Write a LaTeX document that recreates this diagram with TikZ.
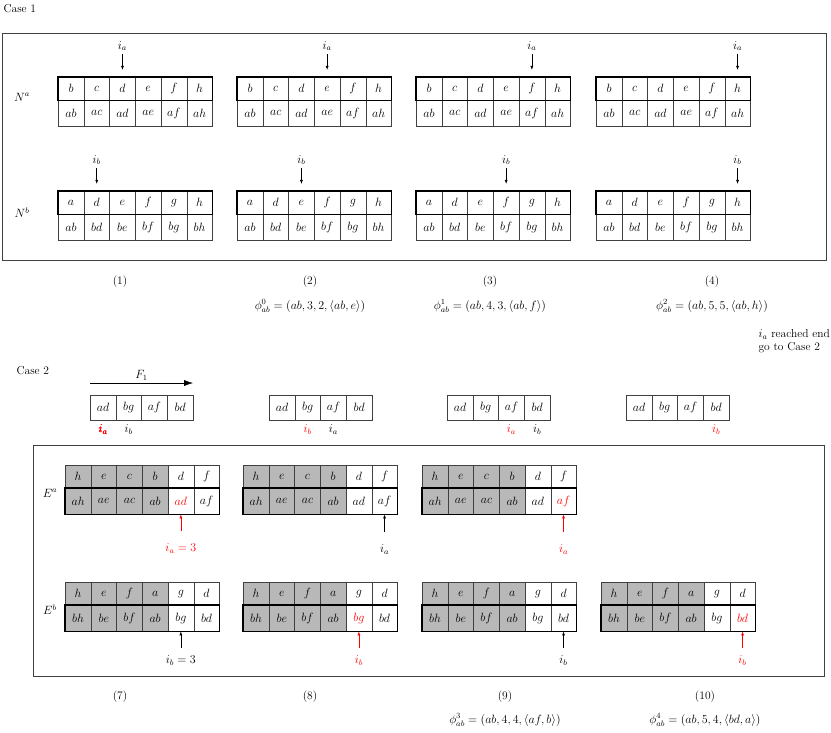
\documentclass[tikz,border=0pt]{standalone}
\usetikzlibrary{arrows.meta,calc}
\tikzset{
  cell/.style={draw=black!75, minimum width=25.7pt, inner sep=0pt, anchor=north west},
  ptr/.style={-{Latex[length=4pt,width=3pt]}, semithick},
  lbl/.style={font=\fontsize{11.5}{13}\selectfont}
}
% one row of cells: prefix, x, y, height, entries
\newcommand{\rowcells}[5]{
  \foreach \t [count=\i] in {#5}
    \node[cell, minimum height=#4] (#1\i) at ({#2+(\i-1)*25.7},#3) {$\t$};
}
\begin{document}
\begin{tikzpicture}[x=1pt,y=-1pt,every node/.style={font=\fontsize{11.5}{13}\selectfont}]
	\useasboundingbox (0,0) rectangle (831,733);
	% Case 1
	\node[anchor=west] (caseone) at (0,9) {Case 1};
	\draw[black!75] (2,33) rectangle (826,260);
	\node (Na) at (22,97) {$N^a$};
	\node (Nb) at (22,213) {$N^b$};
	\foreach \x/\k/\pa/\pb [count=\n] in {58/1/3/2, 237/2/4/3, 416/3/5/4, 596/4/6/6} {
		\rowcells{na\n t}{\x}{77}{23pt}{b,c,d,e,f,h}
		\rowcells{na\n b}{\x}{100}{26pt}{ab,ac,ad,ae,af,ah}
		\draw[very thick] (na\n t1.north west) rectangle (na\n t6.south east);
		\rowcells{nb\n t}{\x}{191}{23pt}{a,d,e,f,g,h}
		\rowcells{nb\n b}{\x}{214}{26pt}{ab,bd,be,bf,bg,bh}
		\draw[very thick] (nb\n t1.north west) rectangle (nb\n t6.south east);
		\path (na\n t\pa.north) ++(0,-31) node (pa\n) {$i_a$};
		\draw[ptr, shorten >=7pt] (pa\n.south) -- (na\n t\pa.north);
		\path (nb\n t\pb.north) ++(0,-31) node (pb\n) {$i_b$};
		\draw[ptr, shorten >=7pt] (pb\n.south) -- (nb\n t\pb.north);
	}
	\node (s1) at (120,282) {(1)};
	\node (s2) at (310,282) {(2)};
	\node (s3) at (490,282) {(3)};
	\node (s4) at (712,282) {(4)};
	\node (phi0) at (310,306) {$\phi^0_{ab}=(ab,3,2,\langle ab,e\rangle)$};
	\node (phi1) at (490,306) {$\phi^1_{ab}=(ab,4,3,\langle ab,f\rangle)$};
	\node (phi2) at (712,306) {$\phi^2_{ab}=(ab,5,5,\langle ab,h\rangle)$};
	\node[anchor=east, align=left, inner sep=1pt] (endnote) at (831,341) {$i_a$ reached end\\go to Case 2};
	% Case 2
	\node[anchor=west] (casetwo) at (13,371) {Case 2};
	\coordinate (fs) at (90,383);
	\coordinate (fe) at (193,383);
	\draw[-{Latex[length=9pt,width=6pt]}] (fs) -- (fe) node[midway, above=-1pt] (F1) {$F_1$};
	\foreach \x [count=\n] in {90,269,447,626}
		\rowcells{f\n c}{\x}{395}{25pt}{ad,bg,af,bd}
	\node[red, below=1pt] (fia1) at (f1c1.south) {$i_a$};
	\node[below=1pt] (fib1) at (f1c2.south) {$i_b$};
	\node[red, below=1pt] (fib2) at (f2c2.south) {$i_b$};
	\node[below=1pt] (fia2) at (f2c3.south) {$i_a$};
	\node[red, below=1pt] (fia3) at (f3c3.south) {$i_a$};
	\node[below=1pt] (fib3) at (f3c4.south) {$i_b$};
	\node[red, below=1pt] (fib4) at (f4c4.south) {$i_b$};
	\draw[black!75] (33,445) rectangle (824,676);
	\node (Ea) at (50,493) {$E^a$};
	\node (Eb) at (50,610) {$E^b$};
	\foreach \x/\ad/\af [count=\n] in {65/{\color{red}ad}/af, 243/ad/af, 422/ad/{\color{red}af}} {
		\fill[black!28] (\x,465) rectangle ++(102.8,49);
		\rowcells{ea\n t}{\x}{465}{23pt}{h,e,c,b,d,f}
		\rowcells{ea\n b}{\x}{488}{26pt}{ah,ae,ac,ab,\ad,\af}
		\draw[very thick] (ea\n b1.north west) rectangle (ea\n b6.south east);
	}
	\foreach \x/\bg/\bd [count=\n] in {65/bg/bd, 243/{\color{red}bg}/bd, 422/bg/bd, 601/bg/{\color{red}bd}} {
		\fill[black!28] (\x,582) rectangle ++(102.8,49);
		\rowcells{eb\n t}{\x}{582}{23pt}{h,e,f,a,g,d}
		\rowcells{eb\n b}{\x}{605}{26pt}{bh,be,bf,ab,\bg,\bd}
		\draw[very thick] (eb\n b1.north west) rectangle (eb\n b6.south east);
	}
	% pointers below the tables
	\node[red] (qa1) at ($(ea1b5.south)+(0,34)$) {$i_a=3$};
	\draw[ptr, red, shorten <=9pt] (qa1.north) -- (ea1b5.south);
	\node (qa2) at ($(ea2b6.south)+(0,35)$) {$i_a$};
	\draw[ptr, shorten <=9pt] (qa2.north) -- (ea2b6.south);
	\node[red] (qa3) at ($(ea3b6.south)+(0,35)$) {$i_a$};
	\draw[ptr, red, shorten <=9pt] (qa3.north) -- (ea3b6.south);
	\node (qb1) at ($(eb1b5.south)+(0,29)$) {$i_b=3$};
	\draw[ptr, shorten <=4pt] (qb1.north) -- (eb1b5.south);
	\node[red] (qb2) at ($(eb2b5.south)+(0,29)$) {$i_b$};
	\draw[ptr, red, shorten <=4pt] (qb2.north) -- (eb2b5.south);
	\node (qb3) at ($(eb3b6.south)+(0,29)$) {$i_b$};
	\draw[ptr, shorten <=4pt] (qb3.north) -- (eb3b6.south);
	\node[red] (qb4) at ($(eb4b6.south)+(0,29)$) {$i_b$};
	\draw[ptr, red, shorten <=4pt] (qb4.north) -- (eb4b6.south);
	\node (s7) at (120,697) {(7)};
	\node (s8) at (310,697) {(8)};
	\node (s9) at (505,697) {(9)};
	\node (s10) at (705,697) {(10)};
	\node (phi3) at (505,720) {$\phi^3_{ab}=(ab,4,4,\langle af,b\rangle)$};
	\node (phi4) at (705,720) {$\phi^4_{ab}=(ab,5,4,\langle bd,a\rangle)$};
\end{tikzpicture}
\end{document}
